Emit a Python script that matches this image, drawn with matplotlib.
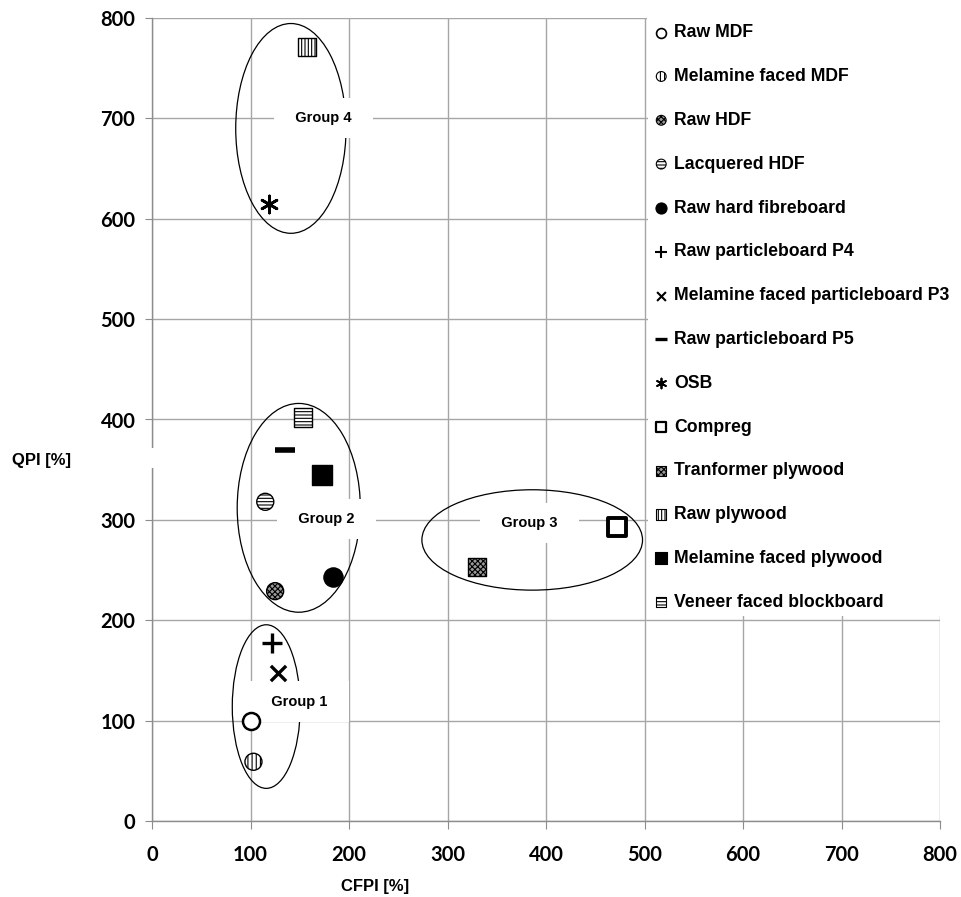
import matplotlib
matplotlib.use("Agg")
import matplotlib.pyplot as plt
from matplotlib.patches import Ellipse, Rectangle

plt.rcParams["hatch.linewidth"] = 0.8

# Panel materials and their indices
materials = ["Raw MDF", "Melamine faced MDF", "Raw HDF", "Lacquered HDF",
             "Raw hard fibreboard", "Raw particleboard P4",
             "Melamine faced particleboard P3", "Raw particleboard P5", "OSB",
             "Compreg", "Tranformer plywood", "Raw plywood",
             "Melamine faced plywood", "Veneer faced blockboard"]
cfpi = [101, 103, 125, 115, 184, 122, 128, 135, 119, 472, 330, 157, 173, 153]
qpi = [100, 59, 229, 318, 243, 177, 147, 370, 615, 293, 253, 771, 345, 402]

# Groups: label, ellipse centre (CFPI, QPI), width, height, label position
group_names = ["Group 1", "Group 2", "Group 3", "Group 4"]
group_centres = [(116, 114), (149, 312), (386, 280), (141, 690)]
group_widths = [69, 125, 224, 112]
group_heights = [163, 208, 100, 209]
group_label_pos = [(150, 119), (177, 301), (383, 297), (174, 700)]

ticks = [0, 100, 200, 300, 400, 500, 600, 700, 800]

# marker style per material: marker, size, facecolor, hatch, edge width
styles = [
    dict(marker="o", s=150, facecolors="white", hatch=None, linewidths=1.8),
    dict(marker="o", s=150, facecolors="white", hatch="||||", linewidths=1.0),
    dict(marker="o", s=150, facecolors="#9a9a9a", hatch="xxxxxx", linewidths=1.0),
    dict(marker="o", s=150, facecolors="white", hatch="-----", linewidths=1.0),
    dict(marker="o", s=190, facecolors="black", hatch=None, linewidths=1.0),
    dict(marker="+", s=190, facecolors="black", hatch=None, linewidths=2.4),
    dict(marker="x", s=120, facecolors="black", hatch=None, linewidths=2.4),
    dict(marker="_", s=190, facecolors="black", hatch=None, linewidths=4.0),
    dict(marker=(6, 2, 0), s=150, facecolors="black", hatch=None, linewidths=2.0),
    dict(marker="s", s=150, facecolors="white", hatch=None, linewidths=2.8),
    dict(marker="s", s=170, facecolors="#9a9a9a", hatch="xxxxxx", linewidths=1.0),
    dict(marker="s", s=170, facecolors="white", hatch="|||||", linewidths=1.0),
    dict(marker="s", s=190, facecolors="black", hatch=None, linewidths=1.0),
    dict(marker="s", s=170, facecolors="white", hatch="-----", linewidths=1.0),
]
legend_linewidths = [1.2, 0.8, 0.8, 0.8, 0.8, 1.5, 1.5, 2.4, 1.3,
                     1.6, 0.8, 0.8, 0.8, 0.8]

W, H = 961, 897
fig = plt.figure(figsize=(W / 100, H / 100), dpi=100)
ax = fig.add_axes([152 / W, 1 - 821 / H, (940 - 152) / W, (821 - 18) / H])

ax.set_xlim(0, 800)
ax.set_ylim(0, 800)
ax.set_xticks(ticks)
ax.set_yticks(ticks)
ax.grid(True, color="#a6a6a6", linewidth=1.0, zorder=0)
ax.set_axisbelow(True)
for side in ["top", "right"]:
    ax.spines[side].set_visible(False)
for side in ["left", "bottom"]:
    ax.spines[side].set_color("#8c8c8c")
    ax.spines[side].set_linewidth(1.0)
ax.tick_params(axis="x", direction="out", length=6, color="#8c8c8c", pad=11)
ax.tick_params(axis="y", direction="out", length=5, color="#8c8c8c", pad=7)
for lab in ax.get_xticklabels() + ax.get_yticklabels():
    lab.set_fontfamily("Lato")
    lab.set_fontweight("bold")
    lab.set_fontsize(14.5)

# group ellipses and their labels
for name, c, w, h, lp in zip(group_names, group_centres, group_widths,
                             group_heights, group_label_pos):
    ax.add_patch(Ellipse(c, w, h, facecolor="none", edgecolor="black",
                         linewidth=0.9, zorder=2))
    ax.text(lp[0], lp[1], "  " + name + "  ", ha="center", va="center",
            fontsize=10.5, fontweight="bold", family="Liberation Sans",
            zorder=3,
            bbox=dict(boxstyle="square,pad=0.9", facecolor="white",
                      edgecolor="none"))

# material points
for name, x, y, st in zip(materials, cfpi, qpi, styles):
    ax.scatter([x], [y], marker=st["marker"], s=st["s"],
               facecolors=st["facecolors"], edgecolors="black",
               hatch=st["hatch"], linewidths=st["linewidths"],
               label=name, zorder=4)

leg = ax.legend(loc="upper left", bbox_to_anchor=(648 / W, 1 - 19 / H),
                bbox_transform=fig.transFigure, borderaxespad=0,
                borderpad=0.3, handlelength=0.9, handletextpad=0.3,
                labelspacing=1.52, markerscale=0.58, fancybox=False,
                framealpha=1, facecolor="white", edgecolor="none",
                prop=dict(family="Liberation Sans", weight="bold", size=12.7))
leg.set_zorder(10)
for handle, lw in zip(leg.legend_handles, legend_linewidths):
    handle.set_linewidths([lw])
fig.patches.append(Rectangle((647 / W, 1 - 22 / H), 314 / W, 22 / H,
                             transform=fig.transFigure, facecolor="white",
                             edgecolor="none", zorder=1))

# axis titles
fig.text(42 / W, 1 - 460 / H, "QPI [%]", ha="center", va="center",
         fontsize=12, fontweight="bold", family="Liberation Sans")
fig.text(375 / W, 1 - 886 / H, "CFPI [%]", ha="center", va="center",
         fontsize=12, fontweight="bold", family="Liberation Sans")
fig.patches.append(Rectangle((145 / W, 1 - 468 / H), 12 / W, 20 / H,
                             transform=fig.transFigure, facecolor="white",
                             edgecolor="none", zorder=20))

fig.savefig("out.png", dpi=100)
